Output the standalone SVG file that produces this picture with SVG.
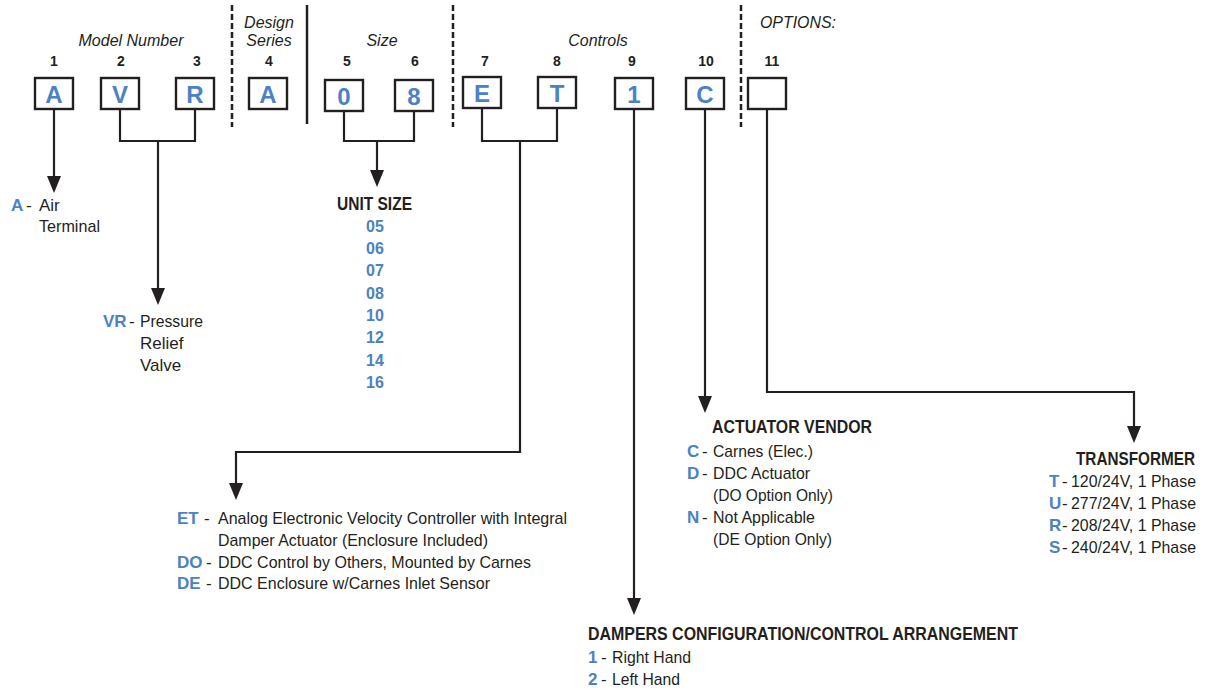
<svg xmlns="http://www.w3.org/2000/svg" width="1206" height="692" viewBox="0 0 1206 692">
<style>
.t{font-family:"Liberation Sans",Arial,sans-serif;fill:#231f20;font-size:17px}
.it{font-family:"Liberation Sans",Arial,sans-serif;fill:#231f20;font-size:16px;font-style:italic}
.num{font-family:"Liberation Sans",Arial,sans-serif;fill:#231f20;font-size:14px;font-weight:bold;text-anchor:middle}
.hd{font-family:"Liberation Sans",Arial,sans-serif;fill:#231f20;font-size:18px;font-weight:bold}
.b{font-family:"Liberation Sans",Arial,sans-serif;fill:#4b82c3;font-size:17px;font-weight:bold}
.bx{fill:#fff;stroke:#231f20;stroke-width:2.4}
.bl{font-family:"Liberation Sans",Arial,sans-serif;fill:#4b82c3;font-size:24px;font-weight:bold;text-anchor:middle}
.ln{fill:none;stroke:#231f20;stroke-width:2.2}
.dash{stroke:#231f20;stroke-width:2.5;stroke-dasharray:6 3}
</style>
<defs>
<marker id="arr" markerUnits="userSpaceOnUse" markerWidth="17" markerHeight="14" viewBox="0 0 17 14" refX="11" refY="7" orient="auto">
<path d="M0,0 L17,7 L0,14 Z" fill="#231f20"/>
</marker>
</defs>
<rect width="1206" height="692" fill="#fff"/>

<g id="header">
<text class="it" x="131" y="46" text-anchor="middle" textLength="105" lengthAdjust="spacingAndGlyphs">Model Number</text>
<text class="it" x="269" y="28" text-anchor="middle">Design</text>
<text class="it" x="269" y="46" text-anchor="middle">Series</text>
<text class="it" x="382" y="46" text-anchor="middle">Size</text>
<text class="it" x="598" y="46" text-anchor="middle">Controls</text>
<text class="it" x="760" y="28" textLength="76" lengthAdjust="spacingAndGlyphs">OPTIONS:</text>
<line class="dash" x1="232" y1="5" x2="232" y2="127"/>
<line x1="307" y1="5" x2="307" y2="124" stroke="#231f20" stroke-width="2.5"/>
<line class="dash" x1="453" y1="5" x2="453" y2="127"/>
<line class="dash" x1="741" y1="5" x2="741" y2="127"/>
</g>

<g id="pos1"><text class="num" x="54" y="66">1</text><rect class="bx" x="35" y="78" width="38" height="31"/><text class="bl" x="54" y="103">A</text></g>
<g id="pos2"><text class="num" x="121" y="66">2</text><rect class="bx" x="101" y="78" width="38" height="31"/><text class="bl" x="120" y="103">V</text></g>
<g id="pos3"><text class="num" x="197" y="66">3</text><rect class="bx" x="176" y="78" width="38" height="31"/><text class="bl" x="195" y="103">R</text></g>
<g id="pos4"><text class="num" x="269" y="66">4</text><rect class="bx" x="249" y="78" width="38" height="31"/><text class="bl" x="268" y="103">A</text></g>
<g id="pos5"><text class="num" x="347" y="66">5</text><rect class="bx" x="325" y="80" width="38" height="31"/><text class="bl" x="344" y="105">0</text></g>
<g id="pos6"><text class="num" x="415" y="66">6</text><rect class="bx" x="395" y="80" width="38" height="31"/><text class="bl" x="414" y="105">8</text></g>
<g id="pos7"><text class="num" x="485" y="66">7</text><rect class="bx" x="463" y="77" width="38" height="31"/><text class="bl" x="482" y="102">E</text></g>
<g id="pos8"><text class="num" x="557" y="66">8</text><rect class="bx" x="538" y="77" width="38" height="31"/><text class="bl" x="557" y="102">T</text></g>
<g id="pos9"><text class="num" x="632" y="66">9</text><rect class="bx" x="615" y="78" width="38" height="31"/><text class="bl" x="634" y="103">1</text></g>
<g id="pos10"><text class="num" x="706" y="66">10</text><rect class="bx" x="686" y="78" width="38" height="31"/><text class="bl" x="705" y="103">C</text></g>
<g id="pos11"><text class="num" x="772" y="66">11</text><rect class="bx" x="748" y="78" width="38" height="31"/></g>

<g id="connectors">
<path class="ln" d="M54,109 V187" marker-end="url(#arr)"/>
<path class="ln" d="M120,109 V141 H195 V109"/>
<path class="ln" d="M158,141 V299" marker-end="url(#arr)"/>
<path class="ln" d="M344,111 V141 H414 V111"/>
<path class="ln" d="M377,141 V181" marker-end="url(#arr)"/>
<path class="ln" d="M482,108 V141 H557 V108"/>
<path class="ln" d="M520,141 V452 H236 V494" marker-end="url(#arr)"/>
<path class="ln" d="M634,109 V609" marker-end="url(#arr)"/>
<path class="ln" d="M705,109 V407" marker-end="url(#arr)"/>
<path class="ln" d="M767,109 V392 H1134 V437" marker-end="url(#arr)"/>
</g>

<g id="model-a">
<text class="b" x="11" y="211">A</text><text class="t" x="26" y="211">-</text>
<text class="t" x="39" y="211">Air</text>
<text class="t" x="39" y="232" textLength="61" lengthAdjust="spacingAndGlyphs">Terminal</text>
</g>

<g id="model-vr">
<text class="b" x="103" y="327">VR</text><text class="t" x="129" y="327">-</text>
<text class="t" x="140" y="327" textLength="63" lengthAdjust="spacingAndGlyphs">Pressure</text>
<text class="t" x="140" y="349">Relief</text>
<text class="t" x="140" y="371">Valve</text>
</g>

<g id="unit-size">
<text class="hd" x="337" y="210" textLength="75" lengthAdjust="spacingAndGlyphs">UNIT SIZE</text>
<g style="font-family:'Liberation Sans',Arial,sans-serif;font-size:16px;font-weight:bold;fill:#4b82c3" text-anchor="middle">
<text x="375" y="232">05</text>
<text x="375" y="254">06</text>
<text x="375" y="276">07</text>
<text x="375" y="299">08</text>
<text x="375" y="321">10</text>
<text x="375" y="343">12</text>
<text x="375" y="366">14</text>
<text x="375" y="388">16</text>
</g>
</g>

<g id="controls">
<text class="b" x="177" y="524">ET</text><text class="t" x="204" y="524">-</text>
<text class="t" x="218" y="524" textLength="349" lengthAdjust="spacingAndGlyphs">Analog Electronic Velocity Controller with Integral</text>
<text class="t" x="218" y="546" textLength="270" lengthAdjust="spacingAndGlyphs">Damper Actuator (Enclosure Included)</text>
<text class="b" x="177" y="568">DO</text><text class="t" x="206" y="568">-</text>
<text class="t" x="218" y="568" textLength="313" lengthAdjust="spacingAndGlyphs">DDC Control by Others, Mounted by Carnes</text>
<text class="b" x="177" y="589">DE</text><text class="t" x="206" y="589">-</text>
<text class="t" x="218" y="589" textLength="272" lengthAdjust="spacingAndGlyphs">DDC Enclosure w/Carnes Inlet Sensor</text>
</g>

<g id="actuator-vendor">
<text class="hd" x="712" y="433" textLength="160" lengthAdjust="spacingAndGlyphs">ACTUATOR VENDOR</text>
<text class="b" x="687" y="457">C</text><text class="t" x="702" y="457">-</text>
<text class="t" x="713" y="457" textLength="100" lengthAdjust="spacingAndGlyphs">Carnes (Elec.)</text>
<text class="b" x="687" y="479">D</text><text class="t" x="702" y="479">-</text>
<text class="t" x="713" y="479" textLength="97" lengthAdjust="spacingAndGlyphs">DDC Actuator</text>
<text class="t" x="713" y="501" textLength="120" lengthAdjust="spacingAndGlyphs">(DO Option Only)</text>
<text class="b" x="687" y="523">N</text><text class="t" x="702" y="523">-</text>
<text class="t" x="713" y="523" textLength="102" lengthAdjust="spacingAndGlyphs">Not Applicable</text>
<text class="t" x="713" y="545" textLength="119" lengthAdjust="spacingAndGlyphs">(DE Option Only)</text>
</g>

<g id="dampers">
<text class="hd" x="588" y="640" textLength="430" lengthAdjust="spacingAndGlyphs">DAMPERS CONFIGURATION/CONTROL ARRANGEMENT</text>
<text class="b" x="588" y="663">1</text><text class="t" x="601" y="663">-</text>
<text class="t" x="612" y="663" textLength="79" lengthAdjust="spacingAndGlyphs">Right Hand</text>
<text class="b" x="588" y="685">2</text><text class="t" x="601" y="685">-</text>
<text class="t" x="612" y="685" textLength="68" lengthAdjust="spacingAndGlyphs">Left Hand</text>
</g>

<g id="transformer">
<text class="hd" x="1076" y="465" textLength="119" lengthAdjust="spacingAndGlyphs">TRANSFORMER</text>
<text class="b" x="1049" y="487">T</text><text class="t" x="1062" y="487">-</text>
<text class="t" x="1071" y="487" textLength="125" lengthAdjust="spacingAndGlyphs">120/24V, 1 Phase</text>
<text class="b" x="1049" y="509">U</text><text class="t" x="1062" y="509">-</text>
<text class="t" x="1071" y="509" textLength="125" lengthAdjust="spacingAndGlyphs">277/24V, 1 Phase</text>
<text class="b" x="1049" y="531">R</text><text class="t" x="1062" y="531">-</text>
<text class="t" x="1071" y="531" textLength="125" lengthAdjust="spacingAndGlyphs">208/24V, 1 Phase</text>
<text class="b" x="1049" y="553">S</text><text class="t" x="1062" y="553">-</text>
<text class="t" x="1071" y="553" textLength="125" lengthAdjust="spacingAndGlyphs">240/24V, 1 Phase</text>
</g>
</svg>
